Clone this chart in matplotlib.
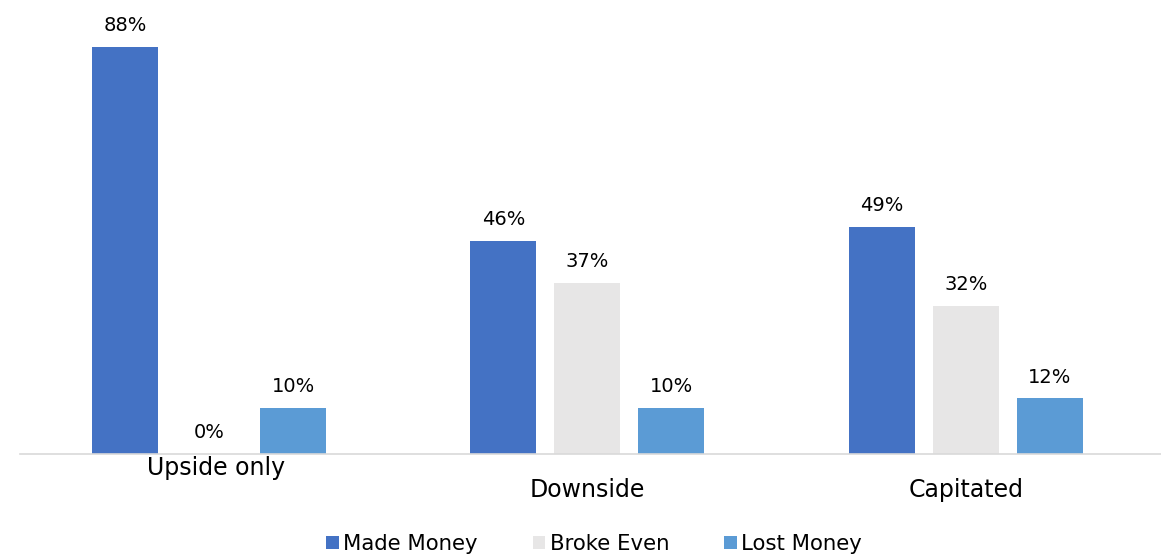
import matplotlib
matplotlib.use("Agg")
import matplotlib.pyplot as plt
from matplotlib.patches import Patch
import matplotlib.transforms as mtransforms
import numpy as np

categories = ["Upside only", "Downside", "Capitated"]
series_names = ["Made Money", "Broke Even", "Lost Money"]
made_money = [88, 46, 49]
broke_even = [0, 37, 32]
lost_money = [10, 10, 12]

colors = ["#4472C4", "#E7E6E6", "#5B9BD5"]
cat_label_dy = [0, -22, -22]   # px offsets of category labels
cat_label_dx = [7, 0, 0]

fig = plt.figure(figsize=(11.61, 5.56), dpi=100)
ax = fig.add_axes([20/1161, 102/556, 1141/1161, 439.4/556])

x = np.arange(len(categories))
width = 66/378.3
pitch = 84/378.3
series = [made_money, broke_even, lost_money]
for i, (vals, col) in enumerate(zip(series, colors)):
    xs = x + (i - 1) * pitch
    ax.bar(xs, vals, width=width, color=col, zorder=2)
    for xi, v in zip(xs, vals):
        ax.annotate(f"{v}%", (xi, v), xytext=(0, 11.5), textcoords="offset points",
                    ha="center", va="baseline", fontsize=14, color="#000000",
                    family="DejaVu Sans")

ax.set_xlim(-0.5, -0.5 + 1141/378.3)
ax.set_ylim(0, 95)
for s in ["top", "right", "left"]:
    ax.spines[s].set_visible(False)
ax.spines["bottom"].set_color("#D9D9D9")
ax.spines["bottom"].set_linewidth(1.2)
ax.set_yticks([])
ax.set_xticks([])

for xi, lab, dy, dx in zip(x, categories, cat_label_dy, cat_label_dx):
    tr = mtransforms.blended_transform_factory(ax.transData, ax.transAxes)
    off = mtransforms.ScaledTranslation(dx/100, (dy - 14)/100, fig.dpi_scale_trans)
    ax.text(xi, 0, lab, transform=tr + off, ha="center", va="center",
            fontsize=17, family="DejaVu Sans", color="#000000")

handles = [Patch(facecolor=c, edgecolor="none", label=n) for c, n in zip(colors, series_names)]
fig.legend(handles=handles, loc="center", bbox_to_anchor=(594/1161, 12/556), ncol=3,
           frameon=False, handlelength=0.6, handleheight=0.6,
           handletextpad=0.2, columnspacing=2.6, prop={"family": "DejaVu Sans", "size": 15.3})

fig.savefig("out.png", dpi=100)
